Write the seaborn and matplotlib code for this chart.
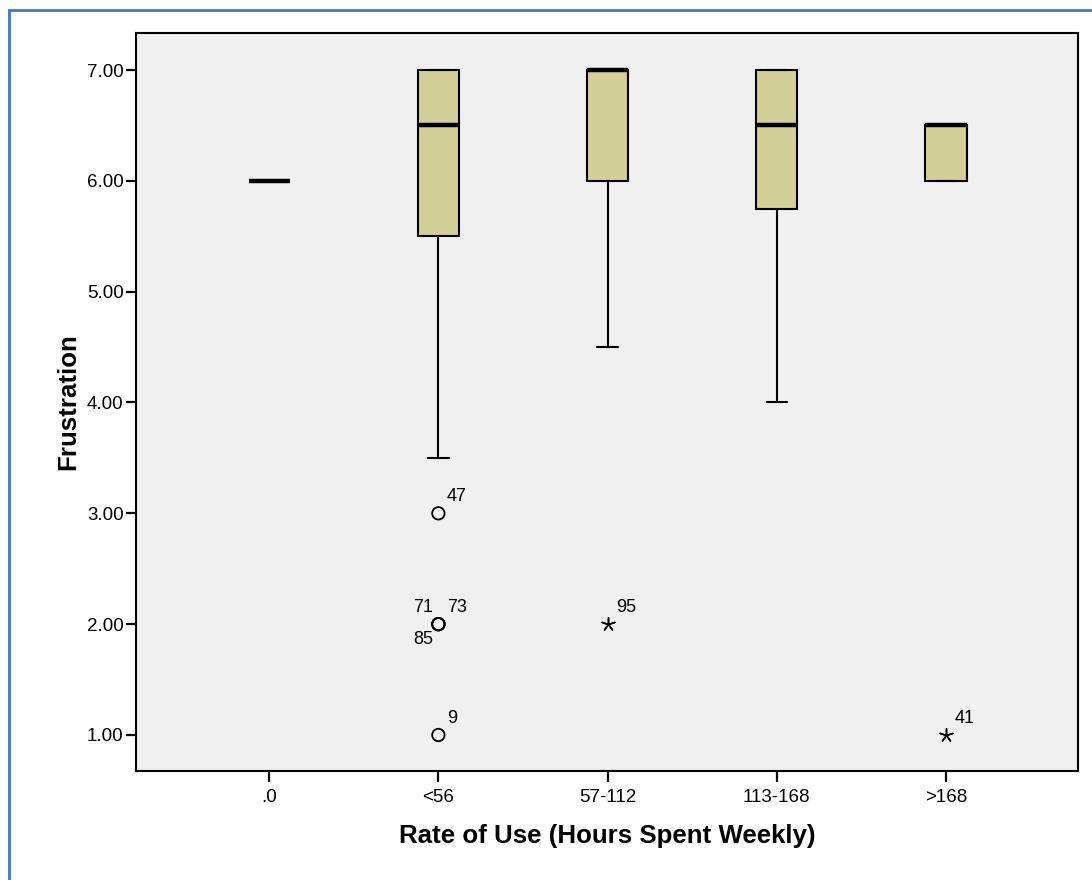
import numpy as np
import pandas as pd
import matplotlib
matplotlib.use("Agg")
import matplotlib.pyplot as plt
from matplotlib.patches import Rectangle
import seaborn as sns

# Weekly hours of use (category order on the x axis)
rate_groups = [".0", "<56", "57-112", "113-168", ">168"]

# Frustration scores per usage group
frustration_0 = [6.0]
frustration_lt56 = [1, 2, 2, 2, 3, 3.5, 4, 4.5, 5, 5.5, 5.5, 5.5, 6, 6, 6, 6, 6,
                    6.5, 6.5, 6.5, 6.5, 6.5, 6.5,
                    7, 7, 7, 7, 7, 7, 7, 7, 7, 7, 7, 7, 7, 7, 7, 7, 7, 7]
frustration_57_112 = [2, 4.5, 5, 5.5, 5.5, 6, 6, 6, 6.5, 6.5,
                      7, 7, 7, 7, 7, 7, 7, 7, 7, 7, 7]
frustration_113_168 = [4, 4.5, 5, 5, 5.5, 5.5, 6, 6, 6, 6.5, 6.5, 6.5, 6.5,
                       7, 7, 7, 7, 7, 7, 7, 7, 7, 7]
frustration_gt168 = [1, 6, 6, 6, 6.5, 6.5, 6.5, 6.5, 6.5]

# Case numbers of the outlying respondents (ascending by score within a group)
outlier_cases = {"<56": [9, 71, 73, 85, 47], "57-112": [95], ">168": [41]}

y_ticks = [1, 2, 3, 4, 5, 6, 7]

groups = [frustration_0, frustration_lt56, frustration_57_112,
          frustration_113_168, frustration_gt168]
df = pd.DataFrame({
    "rate": np.concatenate([[g] * len(v) for g, v in zip(rate_groups, groups)]),
    "frustration": np.concatenate([np.asarray(v, float) for v in groups]),
})

sns.set_theme(style="ticks")
plt.rcParams["font.family"] = ["Liberation Sans", "DejaVu Sans"]
plt.rcParams["text.color"] = "black"
plt.rcParams["axes.labelcolor"] = "black"

fig = plt.figure(figsize=(10.92, 8.8), dpi=100)
ax = fig.add_axes([136 / 1092, 1 - 771 / 880, (1078 - 136) / 1092, (771 - 33) / 880])
ax.set_facecolor("#f0f0f0")

sns.boxplot(data=df, x="rate", y="frustration", order=rate_groups, ax=ax,
            color="#d3cf98", saturation=1, width=0.243, linewidth=1.5,
            linecolor="black", showfliers=False,
            medianprops=dict(linewidth=3.2))

# Outliers: circles beyond 1.5 IQR, stars beyond 3 IQR
label_side = {71: "upper left", 85: "lower left"}
for i, (name, vals) in enumerate(zip(rate_groups, groups)):
    v = np.sort(np.asarray(vals, float))
    q1, q3 = np.percentile(v, [25, 75])
    iqr = q3 - q1
    out = v[(v < q1 - 1.5 * iqr) | (v > q3 + 1.5 * iqr)]
    ids = outlier_cases.get(name, [])
    for val, cid in zip(out, ids):
        extreme = val < q1 - 3 * iqr or val > q3 + 3 * iqr
        if extreme:
            ax.scatter([i], [val], marker=(5, 2, 0), s=95, color="black",
                       linewidths=1.1, zorder=5)
        else:
            ax.scatter([i], [val], marker="o", s=80, facecolors="none",
                       edgecolors="black", linewidths=1.3, zorder=5)
        side = label_side.get(cid, "upper right")
        if side == "upper right":
            xy, ha, va = (6, 6), "left", "bottom"
        elif side == "upper left":
            xy, ha, va = (-4, 6), "right", "bottom"
        else:
            xy, ha, va = (-4, -5), "right", "top"
        ax.annotate(str(cid), (i, val), xytext=xy, textcoords="offset points",
                    ha=ha, va=va, fontsize=13, color="black")

ax.set_xlim(-0.787, 4.78)
ax.set_ylim(0.675, 7.334)
ax.set_yticks(y_ticks)
ax.set_yticklabels([f"{t:.2f}" for t in y_ticks])
ax.tick_params(axis="both", direction="out", length=7, width=1.6,
               labelsize=13.5, colors="black", pad=2)
ax.tick_params(axis="x", length=8, pad=5)

for s in ax.spines.values():
    s.set_visible(True)
    s.set_color("black")
    s.set_linewidth(1.5)

ax.set_xlabel("Rate of Use (Hours Spent Weekly)", fontsize=18.6,
              fontweight="bold", labelpad=13, color="black")
ax.set_ylabel("Frustration", fontsize=18.6, fontweight="bold", labelpad=5,
              color="black")

# Blue frame around the chart
fig.add_artist(Rectangle((9 / 1092, -0.1), 1.2, 1.1 - 10 / 880, fill=False,
                         edgecolor="#4f81bd", linewidth=2.2,
                         transform=fig.transFigure, clip_on=False))

fig.savefig("out.png", dpi=100, facecolor="white")
